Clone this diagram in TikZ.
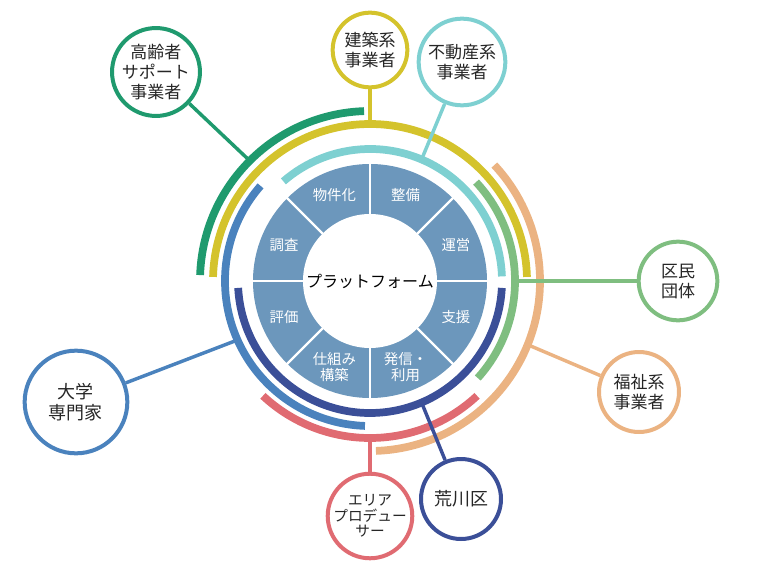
\documentclass[tikz,border=0pt]{standalone}
\usepackage{fontspec}
\setmainfont{Noto Sans CJK JP}
\tikzset{
  party/.style={circle, draw=#1, line width=3pt, fill=white, align=center,
    inner sep=0pt, text=black!85, font=\fontsize{12.75}{15}\selectfont},
  band/.style={draw=#1, line width=5.8pt},
  link/.style={draw=#1, line width=2.6pt},
  seglabel/.style={text=white, align=center, font=\fontsize{10.8}{12.5}\selectfont},
}
\begin{document}
\begin{tikzpicture}[x=0.75pt,y=0.75pt]
\definecolor{dg}{HTML}{1F9A6E}
\definecolor{ye}{HTML}{D4C32C}
\definecolor{cy}{HTML}{7ED0D1}
\definecolor{lg}{HTML}{7FBE80}
\definecolor{og}{HTML}{EBB382}
\definecolor{nv}{HTML}{3B4F98}
\definecolor{rd}{HTML}{E06B72}
\definecolor{bl}{HTML}{4A82BD}
\definecolor{sg}{HTML}{6C97BC}
\useasboundingbox (-370,-297) rectangle (396,281);

% platform ring
\fill[sg] (0,0) circle (117);
\fill[white] (0,0) circle (67);
\foreach \a in {0,45,...,315}
  \draw[white, line width=1.6pt] (\a:66) -- (\a:118);
\node[font=\fontsize{12}{14}\selectfont] (pf) at (0,0) {プラットフォーム};
\node[seglabel] (s1) at (67.5:93) {整備};
\node[seglabel] (s2) at (22.5:93) {運営};
\node[seglabel] (s3) at (-22.5:93) {支援};
\node[seglabel] (s4) at (-67.5:93) {発信・\\利用};
\node[seglabel] (s5) at (-112.5:93) {仕組み\\構築};
\node[seglabel] (s6) at (-157.5:93) {評価};
\node[seglabel] (s7) at (157.5:93) {調査};
\node[seglabel] (s8) at (112.5:93) {物件化};

% bands
\draw[band=cy] (2:132) arc[start angle=2, end angle=131, radius=132];
\draw[band=nv] (183:132) arc[start angle=183, end angle=357, radius=132];
\draw[band=bl] (139:145) arc[start angle=139, end angle=268, radius=145];
\draw[band=lg] (-42:145) arc[start angle=-42, end angle=43, radius=145];
\draw[band=ye] (1.5:157) arc[start angle=1.5, end angle=178.5, radius=157];
\draw[band=rd] (227:157) arc[start angle=227, end angle=313, radius=157];
\draw[band=dg] (92:170) arc[start angle=92, end angle=178, radius=170];
\draw[band=og] (-88:170) arc[start angle=-88, end angle=43, radius=170];

\coordinate (p1) at (135:170);
\coordinate (p2) at (90:157);
\coordinate (p3) at (67:132);
\coordinate (p4) at (0:145);
\coordinate (p5) at (-22:170);
\coordinate (p6) at (-67:132);
\coordinate (p7) at (-90:157);
\coordinate (p8) at (204:145);

% partners
\node[party=dg, minimum size=64pt] (koureisha) at (-214,209) {高齢者\\サポート\\事業者};
\node[party=ye, minimum size=56pt] (kenchiku) at (0,231) {建築系\\事業者};
\node[party=cy, minimum size=65pt] (fudousan) at (92,219) {不動産系\\事業者};
\node[party=lg, minimum size=59pt] (kumin) at (308,0) {区民\\団体};
\node[party=og, minimum size=60pt] (fukushi) at (269,-111) {福祉系\\事業者};
\node[party=nv, minimum size=60pt, font=\fontsize{13.5}{16}\selectfont] (arakawa) at (91,-218) {荒川区};
\node[party=rd, minimum size=59pt, font=\fontsize{11}{11.5}\selectfont] (area) at (0,-235) {エリア\\プロデュー\\サー};
\node[party=bl, minimum size=77pt, font=\fontsize{13.5}{16}\selectfont] (daigaku) at (-294,-121) {大学\\専門家};

\draw[link=dg] (p1) -- (koureisha);
\draw[link=ye] (p2) -- (kenchiku);
\draw[link=cy] (p3) -- (fudousan);
\draw[link=lg] (p4) -- (kumin);
\draw[link=og] (p5) -- (fukushi);
\draw[link=nv] (p6) -- (arakawa);
\draw[link=rd] (p7) -- (area);
\draw[link=bl] (p8) -- (daigaku);
\end{tikzpicture}
\end{document}
